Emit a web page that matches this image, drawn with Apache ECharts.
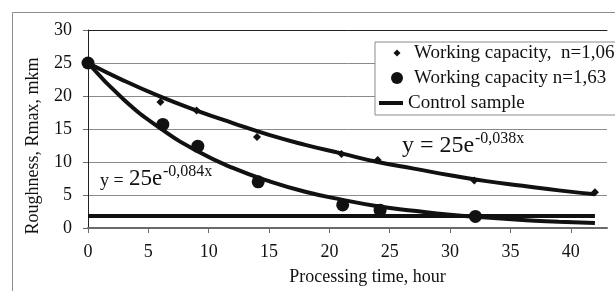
<!DOCTYPE html>
<html>
<head>
<meta charset="utf-8" />
<script src="https://cdn.jsdelivr.net/npm/echarts@6/dist/echarts.min.js"></script>
<style>
  html, body { margin: 0; padding: 0; background: #fff; }
  #main { width: 615px; height: 291px; }
</style>
</head>
<body>
<div id="main"></div>
<script>
// tick labels on the time axis
var xTicks = [0, 5, 10, 15, 20, 25, 30, 35, 40];

// working capacity, n=1,06 (small diamonds)
var cap1X = [0, 6, 9, 14, 21, 24, 32, 42];
var cap1Y = [25, 19.1, 17.8, 13.8, 11.2, 10.3, 7.2, 5.4];

// working capacity, n=1,63 (big dots)
var cap2X = [0, 6.2, 9.1, 14.1, 21.1, 24.2, 32.1];
var cap2Y = [25, 15.7, 12.4, 7.0, 3.5, 2.7, 1.75];

// control sample level
var controlX = [0, 42];
var controlY = [1.8, 1.8];

// trend curves
var trendX = [0, 3, 6, 9, 12, 15, 18, 21, 24, 27, 30, 33, 36, 39, 42];
var trendUpper = [25, 22.3, 19.9, 17.8, 15.9, 14.1, 12.6, 11.3, 10.0, 9.0, 8.0, 7.1, 6.4, 5.7, 5.1];
var trendLower = [25, 19.4, 15.1, 11.7, 9.1, 7.1, 5.5, 4.3, 3.3, 2.6, 2.0, 1.6, 1.2, 0.95, 0.74];

var names = ['Working capacity,  n=1,06', 'Working capacity n=1,63', 'Control sample'];

function pairs(xs, ys) {
    var out = [];
    for (var i = 0; i < xs.length; i++) out.push([xs[i], ys[i]]);
    return out;
}

var FONT = 'Liberation Serif';
var INK = '#111';

var chart = echarts.init(document.getElementById('main'), null, { renderer: 'canvas' });

chart.setOption({
    animation: false,
    backgroundColor: '#fff',
    textStyle: { fontFamily: FONT, color: INK },
    grid: { left: 88, right: 8, top: 30, bottom: 61 },
    legend: {
        orient: 'vertical',
        left: 375,
        top: 42,
        padding: [1, 12, 2, 4],
        itemWidth: 24,
        itemHeight: 14,
        itemGap: 5,
        backgroundColor: '#fff',
        borderColor: '#8c8c8c',
        borderWidth: 1,
        borderRadius: 0,
        textStyle: { fontFamily: FONT, fontSize: 19, color: INK, lineHeight: 20 },
        data: [
            {
                name: names[0],
                icon: 'path://M0,0 L0,0 M24,14 L24,14 M18,3.5 L21.5,7 L18,10.5 L14.5,7 Z',
                textStyle: { padding: [0, 0, 0, 6] }
            },
            {
                name: names[1],
                icon: 'path://M0,0 L0,0 M24,14 L24,14 M24,7 A6,6 0 1,1 12,7 A6,6 0 1,1 24,7 Z',
                textStyle: { padding: [0, 0, 0, 6] }
            },
            {
                name: names[2],
                icon: 'path://M0,0 L0,0 M24,14 L24,14 M0,5 L24,5 L24,9 L0,9 Z'
            }
        ]
    },
    xAxis: [
        {
            type: 'value',
            min: 0,
            max: 43,
            interval: 5,
            name: 'Processing time, hour',
            nameLocation: 'middle',
            nameGap: 40,
            nameTextStyle: { fontFamily: FONT, fontSize: 18, color: INK, padding: [0, 0, 0, 40] },
            axisLine: { show: true, lineStyle: { color: '#6a6a6a', width: 2 } },
            axisTick: { show: true, length: 5, customValues: xTicks, lineStyle: { color: '#6a6a6a' } },
            axisLabel: { customValues: xTicks, margin: 15, fontFamily: FONT, fontSize: 18, color: INK },
            splitLine: { show: false }
        },
        {
            type: 'value',
            position: 'top',
            min: 0,
            max: 43,
            axisLine: { show: true, onZero: false, lineStyle: { color: '#222', width: 1 } },
            axisTick: { show: false },
            axisLabel: { show: false },
            splitLine: { show: false }
        }
    ],
    yAxis: {
        type: 'value',
        min: 0,
        max: 30,
        interval: 5,
        name: 'Roughness, Rmax, mkm',
        nameLocation: 'middle',
        nameGap: 46,
        nameTextStyle: { fontFamily: FONT, fontSize: 18, color: INK, padding: [0, 34, 0, 0] },
        axisLine: { show: true, lineStyle: { color: '#222', width: 1 } },
        axisTick: { show: true, length: 5, lineStyle: { color: '#6a6a6a' } },
        axisLabel: { margin: 16, fontFamily: FONT, fontSize: 18, color: INK },
        splitLine: { show: true, lineStyle: { color: '#8a8a8a', width: 1 } }
    },
    graphic: [
        {
            type: 'rect',
            z: -10,
            silent: true,
            shape: { x: 12.5, y: 12.5, width: 700, height: 400 },
            style: { fill: 'none', stroke: '#8c8c8c', lineWidth: 1 }
        },
        { type: 'text', x: 402, y: 146, z: 100,
          style: { text: 'y = 25e', font: '24px "Liberation Serif"', fill: INK, verticalAlign: 'middle' } },
        { type: 'text', x: 475, y: 139, z: 100,
          style: { text: '-0,038x', font: '16px "Liberation Serif"', fill: INK, verticalAlign: 'middle' } },
        { type: 'text', x: 100, y: 181, z: 100,
          style: { text: 'y =', font: '18px "Liberation Serif"', fill: INK, verticalAlign: 'middle' } },
        { type: 'text', x: 129, y: 179, z: 100,
          style: { text: '25e', font: '23px "Liberation Serif"', fill: INK, verticalAlign: 'middle' } },
        { type: 'text', x: 163, y: 172, z: 100,
          style: { text: '-0,084x', font: '16px "Liberation Serif"', fill: INK, verticalAlign: 'middle' } }
    ],
    series: [
        {
            name: 'trend n=1,06',
            type: 'line',
            data: pairs(trendX, trendUpper),
            smooth: true,
            showSymbol: false,
            symbol: 'none',
            lineStyle: { color: INK, width: 4 },
            z: 3
        },
        {
            name: 'trend n=1,63',
            type: 'line',
            data: pairs(trendX, trendLower),
            smooth: true,
            showSymbol: false,
            symbol: 'none',
            lineStyle: { color: INK, width: 4 },
            z: 3
        },
        {
            name: names[2],
            type: 'line',
            data: pairs(controlX, controlY),
            symbol: 'none',
            showSymbol: false,
            itemStyle: { color: INK },
            lineStyle: { color: INK, width: 4 },
            z: 3
        },
        {
            name: names[0],
            type: 'scatter',
            symbol: 'diamond',
            symbolSize: 8,
            data: pairs(cap1X, cap1Y),
            itemStyle: { color: INK, opacity: 1 },
            z: 4
        },
        {
            name: names[1],
            type: 'scatter',
            symbol: 'circle',
            symbolSize: 13,
            data: pairs(cap2X, cap2Y),
            itemStyle: { color: INK, opacity: 1 },
            z: 4
        }
    ]
});
</script>
</body>
</html>
